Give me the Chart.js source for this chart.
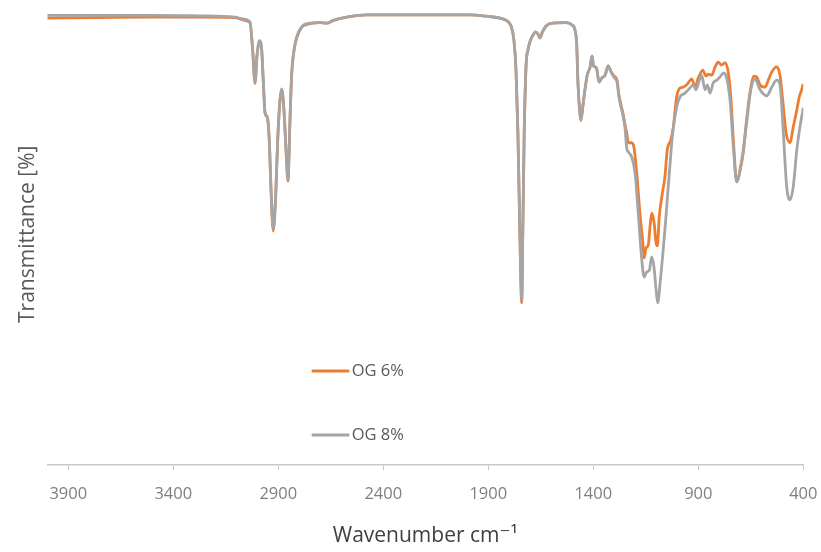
<!DOCTYPE html>
<html>
<head>
<meta charset="utf-8">
<title>FTIR spectra – OG 6% / OG 8%</title>
<script src="https://cdn.jsdelivr.net/npm/chart.js@4.4.1/dist/chart.umd.min.js"></script>
<style>
  html, body { margin: 0; padding: 0; background: #ffffff; }
  #wrap { width: 821px; height: 552px; }
</style>
</head>
<body>
<div id="wrap"><canvas id="ftir" width="821" height="552"></canvas></div>
<script>
// Wavenumber axis ticks (cm-1), drawn high to low
const xTicks = [400, 900, 1400, 1900, 2400, 2900, 3400, 3900];

const seriesNames = ['OG 6%', 'OG 8%'];

// OG 6% spectrum: wavenumber (cm-1) and transmittance (%)
const og6Wavenumbers = [
  4000, 3749, 3511, 3273, 3106, 3068, 3035, 3022, 3011, 3001, 2990, 2979, 2971, 2963, 2952, 2943,
  2935, 2924, 2912, 2903, 2892, 2884, 2873, 2863, 2854, 2844, 2836, 2825, 2812, 2789, 2749, 2701,
  2670, 2638, 2574, 2479, 2225, 1987, 1892, 1844, 1811, 1792, 1778, 1768, 1759, 1749, 1741, 1735,
  1729, 1720, 1711, 1699, 1687, 1675, 1663, 1654, 1642, 1625, 1592, 1530, 1501, 1487, 1479, 1473,
  1463, 1459, 1449, 1440, 1428, 1416, 1406, 1399, 1385, 1373, 1359, 1344, 1329, 1316, 1301, 1287,
  1278, 1268, 1259, 1249,
  1241, 1233, 1217, 1206, 1193, 1178, 1165, 1157, 1149, 1138, 1130, 1122, 1111, 1101, 1095, 1086,
  1074, 1059, 1048, 1031, 1019, 1003, 987, 971, 955, 931, 916, 900, 879, 863, 852, 836,
  820, 805, 789, 773, 757, 744, 733, 717, 701, 686, 670, 654, 635, 622, 606, 582,
  567, 550, 527, 511, 498, 482, 463, 448, 431, 419, 408, 400
];
const og6Transmittance = [
  97.0, 97.1, 97.2, 97.2, 97.1, 96.6, 96.0, 90.0, 82.8, 89.0, 92.0, 90.0, 82.8, 76.3, 75.3, 70.3,
  60.0, 50.7, 58.8, 70.3, 79.1, 81.5, 76.9, 68.1, 61.6, 75.3, 85.0, 90.0, 92.8, 95.0, 95.8, 96.0,
  95.9, 96.5, 97.2, 97.7, 97.7, 97.7, 97.3, 97.0, 96.4, 95.3, 92.2, 85.7, 72.0, 48.6, 35.1, 53.0,
  72.0, 86.8, 90.1, 92.2, 93.3, 94.0, 93.5, 92.7, 94.0, 95.3, 95.9, 96.0, 95.5, 94.4, 91.2, 82.9,
  75.9, 74.7, 78.1, 81.4, 84.8, 86.2, 88.8, 86.6, 86.2, 83.1, 84.0, 84.6, 86.6, 85.4, 84.4, 83.5,
  80.3, 78.1, 76.4, 73.8,
  72.0, 69.9, 69.9, 68.8, 63.3, 54.6, 48.8, 44.9, 47.0, 47.7, 51.6, 54.6, 52.7, 48.1, 47.5, 53.8,
  58.1, 62.5, 68.3, 70.5, 73.3, 79.9, 81.8, 82.0, 82.5, 83.8, 82.0, 84.0, 85.7, 84.4, 84.8, 84.6,
  86.4, 87.4, 86.8, 87.3, 85.1, 79.2, 70.5, 61.4, 64.0, 67.7, 74.9, 80.7, 84.4, 84.2, 82.5, 82.0,
  83.5, 85.3, 86.4, 84.6, 79.2, 72.0, 69.9, 73.3, 77.0, 79.9, 81.4, 82.7
];

// OG 8% spectrum: wavenumber (cm-1) and transmittance (%)
const og8Wavenumbers = [
  4000, 3749, 3511, 3273, 3106, 3068, 3035, 3022, 3011, 3001, 2990, 2979, 2971, 2963, 2952, 2943,
  2935, 2924, 2912, 2903, 2892, 2884, 2873, 2863, 2854, 2844, 2836, 2825, 2812, 2789, 2749, 2701,
  2670, 2638, 2574, 2479, 2225, 1987, 1892, 1844, 1811, 1792, 1778, 1768, 1759, 1749, 1741, 1735,
  1729, 1720, 1711, 1699, 1687, 1675, 1663, 1654, 1642, 1625, 1592, 1530, 1501, 1487, 1479, 1473,
  1463, 1459, 1449, 1440, 1428, 1416, 1406, 1399, 1385, 1373, 1359, 1344, 1329, 1316, 1301, 1287,
  1278, 1268, 1259, 1249,
  1241, 1233, 1217, 1201, 1186, 1169, 1158, 1146, 1133, 1122, 1111, 1101, 1093, 1082, 1070, 1054,
  1038, 1022, 1003, 987, 963, 940, 924, 912, 895, 884, 868, 857, 844, 829, 812, 797,
  778, 765, 749, 733, 717, 693, 670, 650, 630, 606, 574, 550, 527, 511, 495, 479,
  463, 448, 431, 416, 400
];
const og8Transmittance = [
  97.6, 97.6, 97.6, 97.5, 97.2, 96.8, 96.2, 90.1, 83.2, 89.0, 92.1, 90.1, 82.9, 76.4, 75.5, 70.5,
  60.3, 51.2, 59.0, 70.5, 79.2, 81.6, 77.0, 68.3, 62.0, 75.5, 85.1, 90.1, 92.9, 95.1, 95.9, 96.0,
  95.9, 96.5, 97.2, 97.7, 97.7, 97.7, 97.3, 97.0, 96.4, 95.3, 92.2, 85.7, 72.0, 48.8, 35.7, 53.1,
  72.0, 86.8, 90.1, 92.2, 93.3, 94.0, 93.5, 92.7, 94.0, 95.3, 95.9, 96.0, 95.5, 94.4, 91.2, 82.9,
  75.9, 74.9, 78.1, 81.4, 84.8, 86.2, 88.8, 86.6, 86.2, 83.1, 84.0, 84.6, 86.6, 85.3, 84.1, 83.1,
  79.9, 77.6, 75.9, 73.1,
  68.8, 67.9, 66.8, 63.3, 54.6, 44.4, 40.7, 41.8, 42.2, 45.1, 42.9, 37.9, 35.1, 39.4, 45.1, 53.8,
  63.3, 72.0, 77.7, 79.9, 80.7, 81.8, 82.5, 81.4, 83.5, 84.6, 81.4, 82.5, 80.7, 82.9, 83.5, 84.2,
  85.1, 84.0, 79.2, 69.0, 61.4, 66.2, 74.2, 81.4, 83.8, 81.4, 80.1, 82.0, 83.5, 82.5, 72.0, 60.3,
  57.5, 60.3, 68.3, 73.3, 77.5
];

const seriesColors = ['#ED7D31', '#A5A5A5'];

function toPoints(xs, ys) {
  return xs.map((x, i) => ({ x: x, y: ys[i] }));
}

const FONT = "'Open Sans', 'DejaVu Sans', sans-serif";

// Legend drawn inside the plot, entries stacked with wide spacing
const insideLegend = {
  id: 'insideLegend',
  afterDatasetsDraw(chart, args, opts) {
    const ctx = chart.ctx;
    ctx.save();
    chart.data.datasets.forEach((ds, i) => {
      const y = opts.rows[i];
      ctx.strokeStyle = ds.borderColor;
      ctx.lineWidth = opts.lineWidth;
      ctx.beginPath();
      ctx.moveTo(opts.x, y);
      ctx.lineTo(opts.x + opts.lineLength, y);
      ctx.stroke();
      ctx.fillStyle = opts.color;
      ctx.font = opts.font;
      ctx.textBaseline = 'middle';
      ctx.textAlign = 'left';
      ctx.fillText(ds.label, opts.x + opts.lineLength + opts.gap, y);
    });
    ctx.restore();
  }
};

new Chart(document.getElementById('ftir'), {
  type: 'line',
  data: {
    datasets: [
      {
        label: seriesNames[0],
        data: toPoints(og6Wavenumbers, og6Transmittance),
        borderColor: seriesColors[0],
        borderWidth: 2.8,
        pointRadius: 0,
        cubicInterpolationMode: 'monotone',
        order: 2
      },
      {
        label: seriesNames[1],
        data: toPoints(og8Wavenumbers, og8Transmittance),
        borderColor: seriesColors[1],
        borderWidth: 2.8,
        pointRadius: 0,
        cubicInterpolationMode: 'monotone',
        order: 1
      }
    ]
  },
  options: {
    responsive: false,
    animation: false,
    devicePixelRatio: 1,
    layout: { padding: { left: 0, right: 17.7, top: 4.3, bottom: 0 } },
    plugins: {
      legend: { display: false },
      tooltip: { enabled: false },
      insideLegend: {
        x: 311.7,
        rows: [371, 435],
        lineLength: 37.6,
        gap: 2.4,
        lineWidth: 2.8,
        color: '#595959',
        font: "16.5px " + FONT
      }
    },
    scales: {
      x: {
        type: 'linear',
        reverse: true,
        min: 400,
        max: 4000,
        afterBuildTicks: (scale) => { scale.ticks = xTicks.map(v => ({ value: v })); },
        afterFit: (scale) => { scale.height = 552 - 464.3; },
        grid: {
          display: true,
          drawOnChartArea: false,
          drawTicks: true,
          tickLength: 6,
          color: '#c8c8c8',
          lineWidth: 1
        },
        border: { display: true, color: '#c8c8c8', width: 1.5 },
        ticks: {
          autoSkip: false,
          maxRotation: 0,
          padding: 14.5,
          color: '#7f7f7f',
          font: { family: FONT, size: 16.5 },
          callback: (value) => String(value)
        },
        title: {
          display: true,
          text: 'Wavenumber cm⁻¹',
          color: '#404040',
          font: { family: FONT, size: 21 },
          padding: { top: 0, bottom: 3 }
        }
      },
      y: {
        type: 'linear',
        min: 0,
        max: 100,
        afterFit: (scale) => { scale.width = 47.3; },
        grid: { display: false, drawTicks: false },
        border: { display: false },
        ticks: { display: false },
        title: {
          display: true,
          text: 'Transmittance [%]',
          color: '#595959',
          font: { family: FONT, size: 21 },
          padding: { top: 15, bottom: 0 }
        }
      }
    }
  },
  plugins: [insideLegend]
});
</script>
</body>
</html>
